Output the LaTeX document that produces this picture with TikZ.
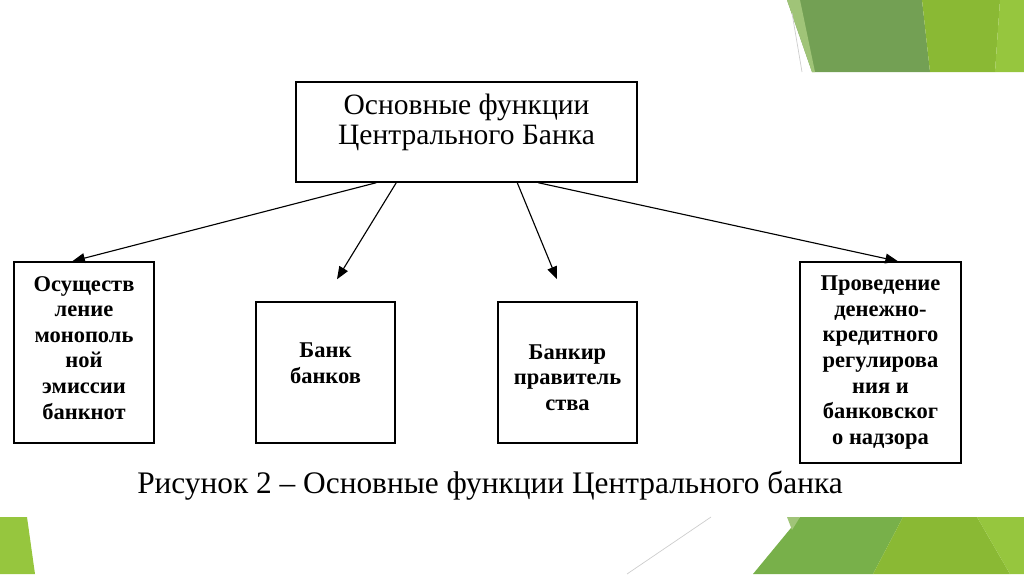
\documentclass[tikz,border=0pt]{standalone}
\usepackage{fontspec}
\setmainfont{Liberation Serif}
\usetikzlibrary{arrows.meta,calc}

\definecolor{leafdark}{RGB}{115,160,84}
\definecolor{leafmid}{RGB}{138,185,52}
\definecolor{leaflight}{RGB}{150,198,62}
\definecolor{leafsoft}{RGB}{160,196,120}
\definecolor{leafgrass}{RGB}{120,176,74}
\definecolor{edgegray}{RGB}{205,205,205}

\begin{document}
\begin{tikzpicture}[
		x=0.025cm, y=-0.025cm,
		box/.style={draw, line width=1pt, inner sep=0pt, align=center},
		headbox/.style={box, minimum width=8.525cm, minimum height=2.5cm,
			font=\fontsize{21}{21.5}\selectfont},
		funcbox/.style={box, font=\fontsize{16}{18.2}\selectfont\bfseries},
		link/.style={-{Triangle[length=9pt,width=7pt]}, line width=0.8pt},
		caption/.style={font=\fontsize{22.3}{26}\selectfont}
		]
		\useasboundingbox (0,0) rectangle (1024,574);
		% slide decoration
		\fill[leafdark] (787,0) -- (922,0) -- (930,72) -- (812,72) -- cycle;
		\fill[leafsoft] (787,0) -- (800,0) -- (815,72) -- (812,72) -- cycle;
		\fill[leafmid] (922,0) -- (1000,0) -- (995,72) -- (930,72) -- cycle;
		\fill[leaflight] (1000,0) -- (1024,0) -- (1024,72) -- (995,72) -- cycle;
		\draw[edgegray, line width=0.5pt] (792,13) -- (802,72);
		\fill[leaflight] (0,517) -- (27,517) -- (35,574) -- (0,574) -- cycle;
		\draw[edgegray, line width=0.5pt] (711,517) -- (627,574);
		\fill[leafgrass] (800,517) -- (903,517) -- (873,574) -- (753,574) -- cycle;
		\fill[leafsoft] (787,517) -- (800,517) -- (792,530) -- cycle;
		\fill[leafmid] (903,517) -- (977,517) -- (1010,574) -- (873,574) -- cycle;
		\fill[leaflight] (977,517) -- (1024,517) -- (1024,574) -- (1010,574) -- cycle;

		% boxes
		\node[headbox, text depth=18pt] (main) at (466.5,132) {Основные функции\\Центрального Банка};
		\node[funcbox, minimum width=3.5cm, minimum height=4.525cm, text depth=7pt] (emis) at (84,352.5)
			{Осуществ\\ление\\монополь\\ной\\эмиссии\\банкнот};
		\node[funcbox, minimum width=3.475cm, minimum height=3.525cm, text depth=13pt] (bank) at (325.5,372.5)
			{Банк\\банков};
		\node[funcbox, minimum width=3.475cm, minimum height=3.525cm, text height=54pt] (gov) at (567.5,372.5)
			{Банкир\\правитель\\ства};
		\node[funcbox, minimum width=4.025cm, minimum height=5.025cm] (reg) at (880.5,362.5)
			{Проведение\\денежно-\\кредитного\\регулирова\\ния и\\банковског\\о надзора};

		% arrows
		\draw[link] ($(main.south west)+(81,0)$) -- ($(emis.north west)+(59,0)$);
		\draw[link] ($(main.south west)+(101,0)$) -- ($(bank.north)+(11.5,-22)$);
		\draw[link] ($(main.south west)+(222,0)$) -- ($(gov.north)+(-10.5,-22)$);
		\draw[link] ($(main.south west)+(243,0)$) -- ($(reg.north)+(17.5,0)$);

		\node[caption] (fig) at (490,486) {Рисунок 2 – Основные функции Центрального банка};
	\end{tikzpicture}
\end{document}
